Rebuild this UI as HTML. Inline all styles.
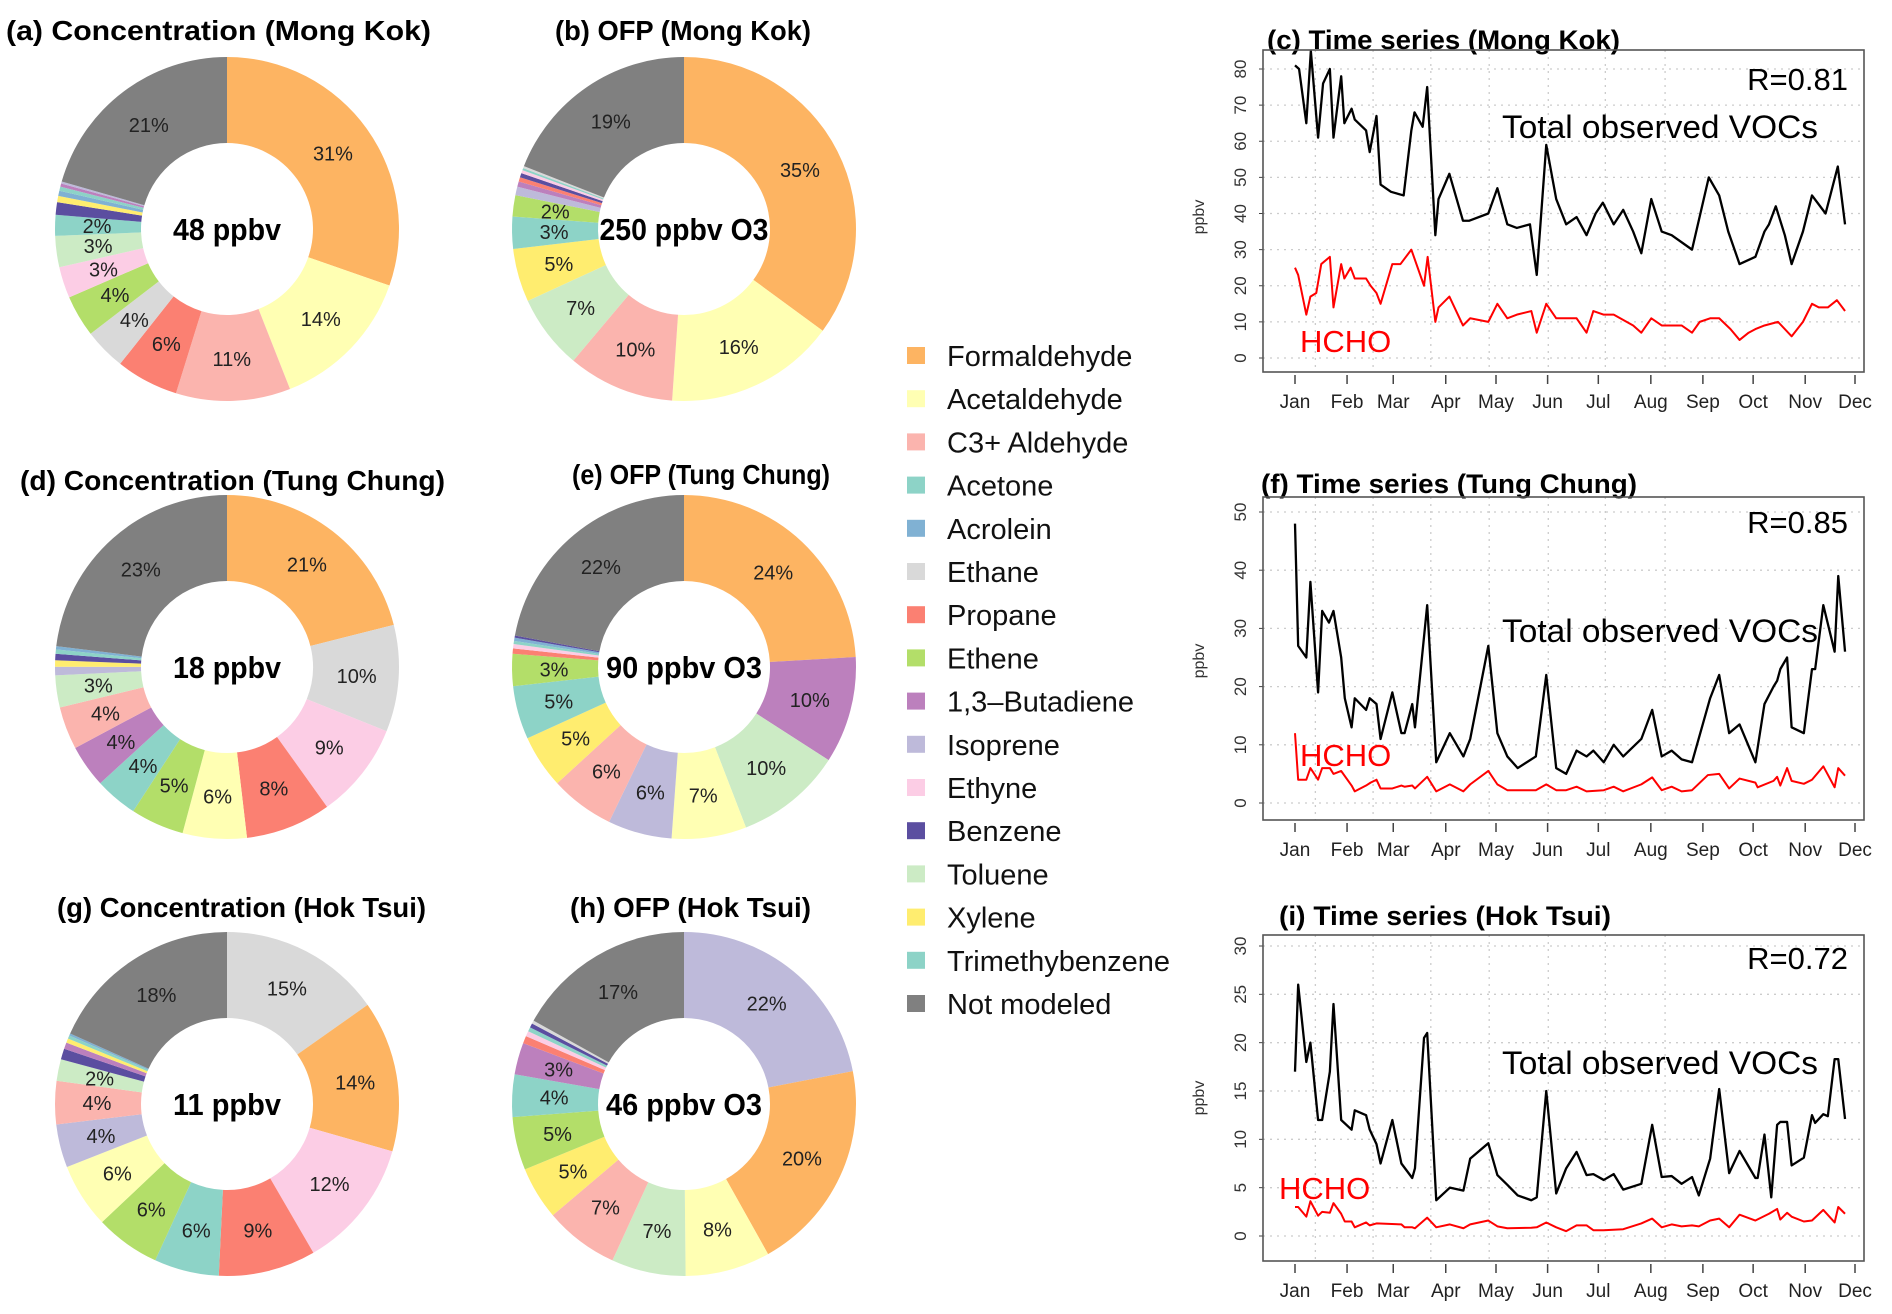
<!DOCTYPE html>
<html><head><meta charset="utf-8">
<style>
html,body{margin:0;padding:0;background:#fff;}
svg{display:block;font-family:"Liberation Sans",Arial,sans-serif;}
</style></head>
<body>
<svg id="fig" width="1892" height="1314" viewBox="0 0 1892 1314"></svg>
<script>
// ---------- Pie data ----------
const species = ["Formaldehyde","Acetaldehyde","C3+ Aldehyde","Acetone","Acrolein","Ethane","Propane","Ethene","1,3\u2013Butadiene","Isoprene","Ethyne","Benzene","Toluene","Xylene","Trimethybenzene","Not modeled"];
const speciesColors = ["#FDB462","#FFFFB3","#FBB4AE","#8DD3C7","#80B1D3","#D9D9D9","#FB8072","#B3DE69","#BC80BD","#BEBADA","#FCCDE5","#5B4EA0","#CCEBC5","#FFED6F","#8DD3C7","#808080"];

const pieA_names = ["Formaldehyde","Acetaldehyde","C3+ Aldehyde","Propane","Ethane","Ethene","Ethyne","Toluene","Acetone","Benzene","Xylene","Acrolein","Trimethybenzene","1,3\u2013Butadiene","Isoprene","Not modeled"];
const pieA_values = [31,14,11,6,4,4,3,3,2,1.2,0.6,0.5,0.4,0.3,0.2,21];
const pieB_names = ["Formaldehyde","Acetaldehyde","C3+ Aldehyde","Toluene","Xylene","Trimethybenzene","Ethene","Isoprene","1,3\u2013Butadiene","Propane","Benzene","Ethyne","Acetone","Ethane","Not modeled"];
const pieB_values = [35,16,10,7,5,3,2,0.8,0.5,0.4,0.4,0.3,0.2,0.2,19];
const pieD_names = ["Formaldehyde","Ethane","Ethyne","Propane","Acetaldehyde","Ethene","Acetone","1,3\u2013Butadiene","C3+ Aldehyde","Toluene","Isoprene","Xylene","Benzene","Trimethybenzene","Acrolein","Not modeled"];
const pieD_values = [21,10,9,8,6,5,4,4,4,3,0.8,0.6,0.6,0.4,0.3,23];
const pieE_names = ["Formaldehyde","1,3\u2013Butadiene","Toluene","Acetaldehyde","Isoprene","C3+ Aldehyde","Xylene","Trimethybenzene","Ethene","Propane","Ethyne","Acetone","Acrolein","Benzene","Not modeled"];
const pieE_values = [24,10,10,7,6,6,5,5,3,0.5,0.4,0.3,0.3,0.2,22];
const pieG_names = ["Ethane","Formaldehyde","Ethyne","Propane","Acetone","Ethene","Acetaldehyde","Isoprene","C3+ Aldehyde","Toluene","Benzene","1,3\u2013Butadiene","Xylene","Trimethybenzene","Acrolein","Not modeled"];
const pieG_values = [15,14,12,9,6,6,6,4,4,2,1,0.6,0.4,0.3,0.2,18];
const pieH_names = ["Isoprene","Formaldehyde","Acetaldehyde","Toluene","C3+ Aldehyde","Xylene","Ethene","Trimethybenzene","1,3\u2013Butadiene","Propane","Ethyne","Acetone","Benzene","Ethane","Not modeled"];
const pieH_values = [22,20,8,7,7,5,5,4,3,0.7,0.5,0.4,0.4,0.3,17];

// ---------- Time series data (t: Jan 1 = 0 ... Dec 1 = 1237 axis units) ----------
const monthLabels = ["Jan","Feb","Mar","Apr","May","Jun","Jul","Aug","Sep","Oct","Nov","Dec"];
const monthT = [0,115,217,333,444,558,670,786,901,1012,1127,1237];

const mkVocT = [0,9,25,35,51,62,77,85,102,109,125,132,157,165,180,189,212,240,257,264,282,292,310,317,341,371,385,427,447,469,490,519,534,555,577,599,622,644,664,680,704,725,747,765,787,810,832,877,914,937,957,982,1017,1037,1047,1062,1082,1097,1122,1142,1172,1199,1215];
const mkVocV = [81,80,65,85,61,76,80,61,78,65,69,66,63,57,67,48,46,45,63,68,64,75,34,44,51,38,38,40,47,37,36,37,23,59,44,37,39,34,40,43,37,41,35,29,44,35,34,30,50,45,35,26,28,35,37,42,34,26,35,45,40,53,37];
const mkHchoT = [0,7,25,34,47,58,77,85,102,109,123,132,157,167,180,189,215,233,257,285,293,310,317,341,371,387,427,447,469,490,522,534,555,577,622,644,659,682,704,747,765,787,810,832,854,877,894,917,937,962,982,1002,1017,1037,1067,1097,1122,1142,1157,1177,1197,1215];
const mkHchoV = [25,23,12,17,18,26,28,14,26,22,25,22,22,20,18,15,26,26,30,20,28,10,14,17,9,11,10,15,11,12,13,7,15,11,11,7,13,12,12,9,7,11,9,9,9,7,10,11,11,8,5,7,8,9,10,6,10,15,14,14,16,13];

const tcVocT = [0,7,25,34,51,60,75,85,102,110,125,132,157,165,180,189,215,235,242,259,265,292,312,342,372,387,427,447,469,492,532,555,577,599,622,644,659,682,704,725,765,789,810,832,854,877,917,937,959,982,1017,1037,1057,1065,1072,1087,1097,1124,1142,1149,1167,1192,1200,1215];
const tcVocV = [48,27,25,38,19,33,31,33,25,18,13,18,16,18,17,11,19,12,12,17,13,34,7,12,8,11,27,12,8,6,8,22,6,5,9,8,9,7,10,8,11,16,8,9,7.5,7,18,22,12,13.5,7,17,20,21,23,25,13,12,23,23,34,26,39,26];
const tcHchoT = [0,7,25,34,51,60,77,85,102,125,132,157,167,180,189,215,235,242,259,265,292,312,342,372,387,427,447,469,532,555,577,599,622,644,682,704,725,765,789,810,832,854,877,912,937,959,982,1017,1022,1057,1065,1072,1087,1097,1124,1142,1167,1192,1200,1215];
const tcHchoV = [12,4,4,6,4,6,6,5,5.5,3,2,3,3.5,4,2.5,2.5,3,2.8,3,2.5,4.5,2,3.2,2,3.2,5.5,3.2,2.2,2.2,3.2,2.2,2.2,2.8,2,2.2,2.8,2,3.2,4.4,2.2,2.8,2,2.2,4.8,5,2.5,4.2,3.5,2.7,3.8,4.5,3,6,3.8,3.3,4,6.3,2.7,6,4.7];

const htVocT = [0,7,25,34,51,60,77,85,102,125,132,157,165,180,189,215,235,259,265,285,292,312,342,372,387,427,447,469,492,522,534,555,577,599,622,644,659,682,704,725,765,789,810,832,854,877,892,917,937,959,982,1017,1022,1037,1052,1065,1072,1087,1097,1124,1142,1149,1167,1177,1192,1200,1215];
const htVocV = [17,26,18,20,12,12,17,24,12,11,13,12.5,11,9.5,7.5,12,7.5,6,7,20.5,21,3.7,5,4.7,8,9.6,6.3,5.3,4.2,3.7,4,15,4.4,7,8.7,6.3,6.4,5.8,6.4,4.8,5.4,11.5,6.1,6.2,5.4,6.1,4.2,8,15.2,6.5,8.8,6,6,10.5,4,11.5,11.8,11.8,7.3,8.1,12.5,11.7,12.6,12.4,18.3,18.3,12.1];
const htHchoT = [0,7,25,34,51,60,77,85,102,110,125,132,157,165,180,235,242,259,265,292,312,342,372,387,427,447,469,522,534,555,577,599,622,644,659,682,725,765,789,810,832,854,877,892,917,937,959,982,1017,1047,1065,1072,1087,1097,1124,1142,1167,1192,1200,1215];
const htHchoV = [3,3,2,3.6,2.1,2.5,2.4,3.4,2.3,1.5,1.5,0.9,1.4,1.1,1.3,1.2,0.9,0.9,0.8,1.9,0.9,1.2,0.8,1.2,1.6,1,0.8,0.85,0.9,1.4,0.9,0.5,1.1,1.1,0.6,0.6,0.7,1.3,1.8,0.9,1.2,1,1.1,1,1.6,1.8,0.9,2.2,1.6,2.3,2.8,1.7,2.4,2,1.5,1.6,2.7,1.4,3,2.3];

const NS = "http://www.w3.org/2000/svg";
const svg = document.getElementById("fig");
function mk(tag, attrs, parent){
  const e = document.createElementNS(NS, tag);
  for (const k in attrs) e.setAttribute(k, attrs[k]);
  (parent||svg).appendChild(e);
  return e;
}
function txt(str, attrs, parent){ const t = mk("text", attrs, parent); t.textContent = str; return t; }

// ---------- Donuts ----------
function donut(title, tx, tw, ty, cx, cy, names, values, center, cw, key){
  const g = mk("g", {});
  
  
  const t = txt(title, {x: tx, y: ty, "font-size": 28, "font-weight": "bold", textLength: tw, lengthAdjust: "spacingAndGlyphs"}, g);
  
  
  const R = 172, r = 86, total = values.reduce((a,b)=>a+b,0);
  let a0 = 0;
  for (let i=0;i<values.length;i++){
    const frac = values[i]/total;
    const a1 = a0 + frac*2*Math.PI;
    const p = (rad,a)=>[cx+rad*Math.sin(a), cy-rad*Math.cos(a)];
    const [x0,y0]=p(R,a0),[x1,y1]=p(R,a1),[x2,y2]=p(r,a1),[x3,y3]=p(r,a0);
    const large = (a1-a0)>Math.PI?1:0;
    const col = speciesColors[species.indexOf(names[i])];
    const path = mk("path", {d:`M${x0},${y0}A${R},${R} 0 ${large} 1 ${x1},${y1}L${x2},${y2}A${r},${r} 0 ${large} 0 ${x3},${y3}Z`, fill: col}, g);
    
    
    if (values[i] >= 2){
      const am = (a0+a1)/2, [lx,ly]=p(130,am);
      const lb = txt(Math.round(values[i]) + "%", {x: lx, y: ly+7, "font-size": 20, "text-anchor": "middle", fill: "#222"}, g);
      
      
    }
    a0 = a1;
  }
  const c = txt(center, {x: cx - cw/2, y: cy+11, "font-size": 31, "font-weight": "bold", textLength: cw, lengthAdjust: "spacingAndGlyphs"}, g);
  
  
}
donut("(a) Concentration (Mong Kok)", 6, 425, 40, 227, 229, pieA_names, pieA_values, "48 ppbv", 108, "a");
donut("(b) OFP (Mong Kok)", 555, 256, 40, 684, 229, pieB_names, pieB_values, "250 ppbv O3", 169, "b");
donut("(d) Concentration (Tung Chung)", 20, 425, 490, 227, 667, pieD_names, pieD_values, "18 ppbv", 108, "d");
donut("(e) OFP (Tung Chung)", 572, 258, 484, 684, 667, pieE_names, pieE_values, "90 ppbv O3", 156, "e");
donut("(g) Concentration (Hok Tsui)", 57, 369, 917, 227, 1104, pieG_names, pieG_values, "11 ppbv", 108, "g");
donut("(h) OFP (Hok Tsui)", 570, 241, 917, 684, 1104, pieH_names, pieH_values, "46 ppbv O3", 156, "h");

// ---------- Legend ----------
const lg = mk("g", {});


for (let i=0;i<species.length;i++){
  const y = 356 + i*43.2;
  const e = mk("g", {}, lg);
  
  
  mk("rect", {x: 907, y: y-9, width: 18, height: 17, fill: speciesColors[i]}, e);
  txt(species[i], {x: 947, y: y+10, "font-size": 29, fill: "#111"}, e);
}

// ---------- Time series ----------
function series(key, title, tx, tw, ty, top, bottom, y0px, ymaxPx, ymax, ystep, vT, vV, hT, hV, R, rY, vocY, hchoX, hchoY, ylabY){
  const g = mk("g", {});
  
  
  const L = 1263, Rt = 1864, xJan = 1295, xDec = 1855;
  const X = t => xJan + t/1237*(xDec-xJan);
  const Y = v => y0px - v/ymax*(y0px-ymaxPx);
  const tt = txt(title, {x: tx, y: ty, "font-size": 27, "font-weight": "bold", textLength: tw, lengthAdjust: "spacingAndGlyphs"}, g);
  
  
  for (let v=0; v<=ymax+1e-9; v+=ystep){
    mk("line", {x1: L, x2: Rt, y1: Y(v), y2: Y(v), stroke: "#ccc", "stroke-dasharray": "2,5", "stroke-width": 1.3}, g);
  }
  [30,115,200,286,373,457,545].forEach(z=>{
    const x = X(z*1.5);
    mk("line", {x1: x, x2: x, y1: top, y2: bottom, stroke: "#ccc", "stroke-dasharray": "2,5", "stroke-width": 1.3}, g);
  });
  const ya = mk("g", {}, g);
  
  
  for (let v=0; v<=ymax+1e-9; v+=ystep){
    mk("line", {x1: L-4, x2: L, y1: Y(v), y2: Y(v), stroke: "#444"}, ya);
    txt(String(v), {x: 1246, y: Y(v), "font-size": 17, fill: "#333", "text-anchor": "middle", transform: `rotate(-90 1246 ${Y(v)})`}, ya);
  }
  const yl = txt("ppbv", {x: 1204, y: ylabY, "font-size": 16, fill: "#333", "text-anchor": "middle", transform: `rotate(-90 1204 ${ylabY})`}, g);
  
  
  const xa = mk("g", {}, g);
  
  
  for (let i=0;i<monthLabels.length;i++){
    const x = X(monthT[i]);
    mk("line", {x1: x, x2: x, y1: bottom+3, y2: bottom+12, stroke: "#444", "stroke-width": 1.5}, xa);
    txt(monthLabels[i], {x: x, y: bottom+36, "font-size": 19, "text-anchor": "middle", fill: "#222"}, xa);
  }
  const lineV = mk("polyline", {points: vT.map((t,i)=>X(t)+","+Y(vV[i])).join(" "), fill: "none", stroke: "#000", "stroke-width": 2.3, "stroke-linejoin": "round"}, g);
  
  
  const lineH = mk("polyline", {points: hT.map((t,i)=>X(t)+","+Y(hV[i])).join(" "), fill: "none", stroke: "#f00", "stroke-width": 2, "stroke-linejoin": "round"}, g);
  
  
  const box = mk("rect", {x: L, y: top, width: Rt-L, height: bottom-top, fill: "none", stroke: "#555", "stroke-width": 1.6}, g);
  
  
  const rt = txt(R, {x: 1848, y: rY, "font-size": 31, "text-anchor": "end"}, g);
  
  
  const vt = txt("Total observed VOCs", {x: 1502, y: vocY, "font-size": 32, textLength: 316, lengthAdjust: "spacingAndGlyphs"}, g);
  
  
  const ht = txt("HCHO", {x: hchoX, y: hchoY, "font-size": 31, fill: "#f00"}, g);
  
  
}
series("c", "(c) Time series (Mong Kok)", 1267, 353, 49, 50, 372, 358, 69, 80, 10, mkVocT, mkVocV, mkHchoT, mkHchoV, "R=0.81", 90, 138, 1300, 352, 217);
series("f", "(f) Time series (Tung Chung)", 1261, 376, 493, 497, 820, 803, 512, 50, 10, tcVocT, tcVocV, tcHchoT, tcHchoV, "R=0.85", 533, 642, 1300, 766, 661);
series("i", "(i) Time series (Hok Tsui)", 1279, 332, 925, 935, 1261, 1236, 946, 30, 5, htVocT, htVocV, htHchoT, htHchoV, "R=0.72", 969, 1074, 1279, 1199, 1098);
</script>
</body></html>
